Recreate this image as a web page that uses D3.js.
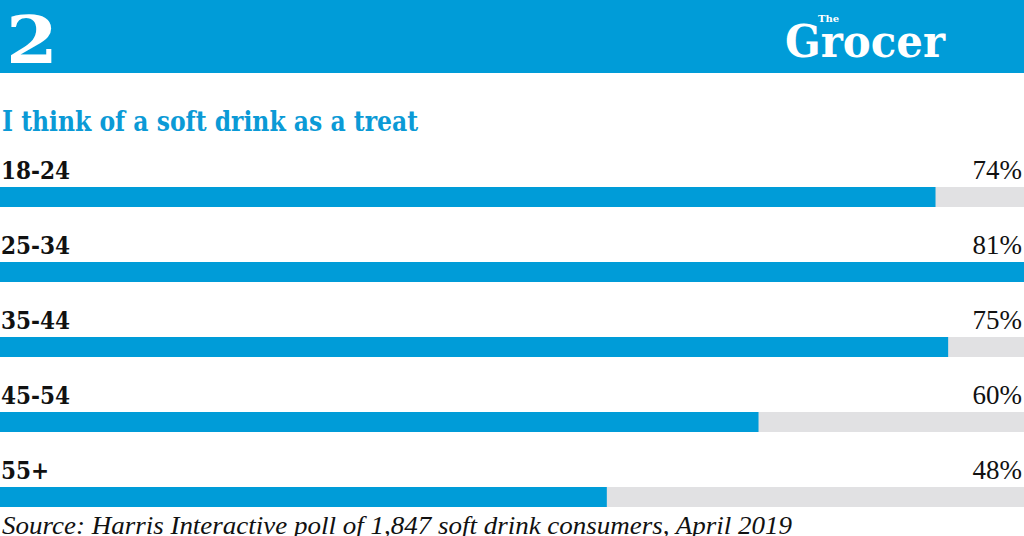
<!DOCTYPE html>
<html><head><meta charset="utf-8">
<script src="https://cdn.jsdelivr.net/npm/d3@7"></script>
<style>html,body{margin:0;padding:0;background:#fff;overflow:hidden}</style>
</head><body><svg id="chart" width="1024" height="536"></svg>
<script>
const categories = ["18-24","25-34","35-44","45-54","55+"];
const values = [74,81,75,60,48];
const valueLabels = ["74%","81%","75%","60%","48%"];
const title = "I think of a soft drink as a treat";
const source = "Source: Harris Interactive poll of 1,847 soft drink consumers, April 2019";

const W = 1024, H = 536;
const blue = "#009cd8";
const svg = d3.select("#chart");

// header band
svg.append("rect").attr("x",0).attr("y",0).attr("width",W).attr("height",73).attr("fill",blue);
svg.append("text").attr("x",6).attr("y",63).attr("fill","#fff")
  .attr("font-family","DejaVu Serif").attr("font-weight","bold").attr("font-size",66)
  .attr("textLength",52).attr("lengthAdjust","spacingAndGlyphs").text("2");
svg.append("text").attr("x",785).attr("y",57).attr("fill","#fff")
  .attr("font-family","DejaVu Serif Condensed, DejaVu Serif").attr("font-weight","bold").attr("font-size",44)
  .attr("textLength",160).attr("lengthAdjust","spacingAndGlyphs").text("Grocer");
svg.append("text").attr("x",818).attr("y",22).attr("fill","#fff")
  .attr("font-family","DejaVu Serif").attr("font-weight","bold").attr("font-size",10).text("The");

svg.append("text").attr("x",2).attr("y",131).attr("fill","#0b9ad6")
  .attr("font-family","DejaVu Serif Condensed, DejaVu Serif").attr("font-weight","bold").attr("font-size",28)
  .attr("textLength",416).attr("lengthAdjust","spacingAndGlyphs")
  .text(title);

const x = d3.scaleLinear().domain([0, d3.max(values)]).range([0, W]);
const y = d3.scaleBand().domain(categories).range([150, 525]).paddingInner(0);

const g = svg.selectAll("g.row").data(categories).join("g").attr("class","row")
  .attr("transform", d => `translate(0,${y(d)})`);

g.append("rect").attr("x",0).attr("y",37).attr("width",W).attr("height",20).attr("fill","#e1e1e3");
g.append("rect").attr("x",0).attr("y",37).attr("width",(d,i)=>x(values[i])).attr("height",20).attr("fill",blue);
g.append("text").attr("x",1).attr("y",29).attr("fill","#111")
  .attr("font-family","DejaVu Serif Condensed, DejaVu Serif").attr("font-weight","bold").attr("font-size",24)
  .text(d=>d);
g.append("text").attr("x",1022).attr("y",29).attr("text-anchor","end").attr("fill","#111")
  .attr("font-family","Liberation Serif").attr("font-size",27)
  .text((d,i)=>valueLabels[i]);

svg.append("text").attr("x",2).attr("y",534).attr("fill","#111")
  .attr("font-family","Liberation Serif").attr("font-style","italic").attr("font-size",26)
  .attr("textLength",790).attr("lengthAdjust","spacingAndGlyphs")
  .text(source);
</script></body></html>
